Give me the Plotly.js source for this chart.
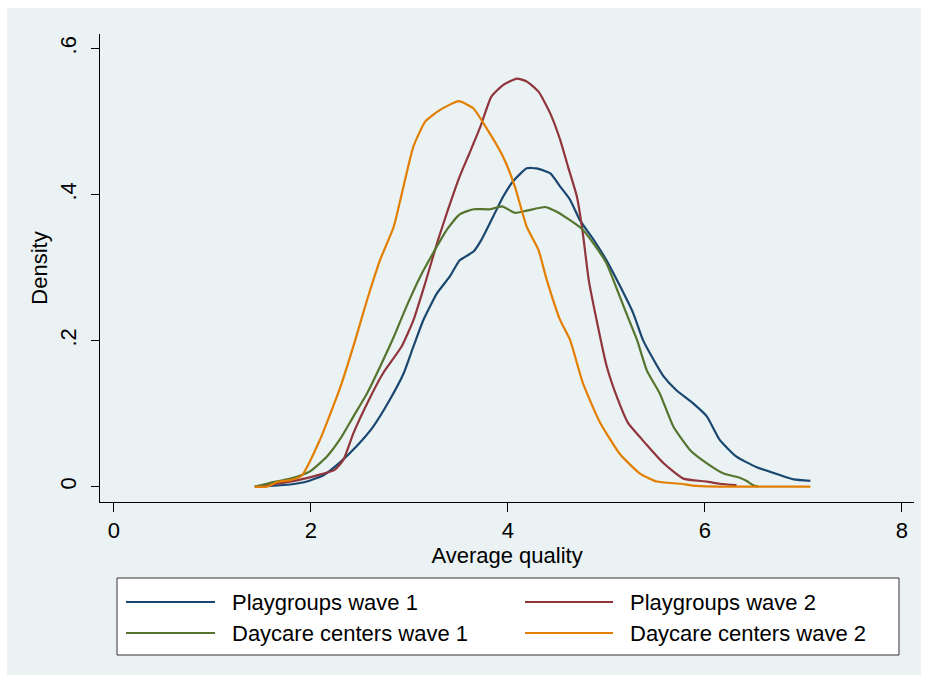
<!DOCTYPE html>
<html>
<head>
<meta charset="utf-8">
<script src="https://cdn.plot.ly/plotly-3.0.1.min.js"></script>
<style>html,body{margin:0;padding:0;background:#fff;}#chart{width:928px;height:682px;}</style>
</head>
<body>
<div id="chart"></div>
<script>
// Series names
const seriesNames = ["Playgroups wave 1", "Playgroups wave 2", "Daycare centers wave 1", "Daycare centers wave 2"];
const seriesColors = ["#1a476f", "#90353b", "#55752f", "#e37e00"];

// Playgroups wave 1
const pg1X = [1.43,1.58,1.79,1.96,2.13,2.30,2.46,2.63,2.80,2.94,3.04,3.14,3.28,3.41,3.51,3.65,3.73,3.85,3.95,4.05,4.19,4.29,4.43,4.53,4.63,4.73,4.87,5.00,5.14,5.27,5.37,5.44,5.58,5.71,5.88,6.02,6.15,6.32,6.52,6.76,6.90,7.07];
const pg1Y = [0.000,0.001,0.003,0.007,0.016,0.034,0.055,0.082,0.119,0.155,0.192,0.228,0.265,0.288,0.310,0.322,0.338,0.370,0.397,0.418,0.436,0.436,0.429,0.411,0.393,0.365,0.338,0.310,0.274,0.238,0.201,0.183,0.151,0.132,0.114,0.096,0.064,0.041,0.027,0.016,0.010,0.008];

// Playgroups wave 2
const pg2X = [1.43,1.60,1.87,2.24,2.33,2.43,2.57,2.73,2.92,3.04,3.16,3.29,3.39,3.51,3.61,3.72,3.83,3.95,4.09,4.19,4.31,4.43,4.53,4.61,4.70,4.76,4.82,4.90,5.00,5.10,5.22,5.34,5.41,5.58,5.78,6.02,6.15,6.32];
const pg2Y = [0.000,0.003,0.009,0.023,0.037,0.073,0.114,0.155,0.192,0.228,0.279,0.338,0.379,0.425,0.457,0.493,0.534,0.550,0.559,0.555,0.541,0.511,0.475,0.438,0.397,0.347,0.283,0.228,0.166,0.125,0.087,0.068,0.057,0.032,0.011,0.007,0.004,0.002];

// Daycare centers wave 1
const dc1X = [1.43,1.58,1.79,1.99,2.16,2.30,2.43,2.57,2.70,2.84,2.97,3.11,3.24,3.38,3.51,3.65,3.82,3.94,4.07,4.19,4.38,4.49,4.63,4.76,4.90,5.00,5.07,5.20,5.31,5.41,5.54,5.68,5.85,6.02,6.19,6.36,6.42,6.49,6.54];
const dc1Y = [0.000,0.005,0.011,0.021,0.041,0.066,0.096,0.128,0.164,0.205,0.247,0.288,0.320,0.352,0.373,0.380,0.380,0.384,0.375,0.378,0.383,0.377,0.365,0.352,0.327,0.306,0.283,0.238,0.201,0.159,0.128,0.082,0.050,0.032,0.018,0.012,0.008,0.002,0.000];

// Daycare centers wave 2
const dc2X = [1.43,1.55,1.67,1.79,1.905,2.09,2.30,2.45,2.57,2.70,2.84,2.92,3.04,3.16,3.31,3.50,3.65,3.75,3.95,4.07,4.19,4.31,4.39,4.53,4.63,4.76,4.93,5.14,5.34,5.51,5.75,5.91,6.20,7.07];
const dc2Y = [0.000,0.000,0.007,0.009,0.015,0.064,0.137,0.201,0.256,0.310,0.356,0.400,0.466,0.500,0.516,0.528,0.518,0.498,0.452,0.411,0.356,0.324,0.285,0.228,0.201,0.142,0.089,0.044,0.018,0.007,0.004,0.001,0.000,0.000];

// Axis ticks
const xTickVals = [0, 2, 4, 6, 8];
const xTickText = ["0", "2", "4", "6", "8"];
const yTickVals = [0, 0.2, 0.4, 0.6];
const yTickText = ["0", ".2", ".4", ".6"];

const xs = [pg1X, pg2X, dc1X, dc2X];
const ys = [pg1Y, pg2Y, dc1Y, dc2Y];

const FONT = "Arial, 'Liberation Sans', Helvetica, sans-serif";
const FS = 22;

const traces = seriesNames.map((n, i) => ({
  type: "scatter", mode: "lines", name: n,
  x: xs[i], y: ys[i],
  line: {color: seriesColors[i], width: 2.2, shape: "spline", smoothing: 0.5}
}));

// Manual legend (Stata style box, 2 columns)
// paper coordinates derived from plot area: x 100..914 px, y 34..502 px
const px = v => (v - 100) / 814;
const py = v => (502 - v) / 468;
const legCols = [[126, 215, 230], [525, 613, 628]];
const legRows = [602, 633];
const shapes = [
  {type: "rect", xref: "paper", yref: "paper", layer: "below",
   x0: px(7), x1: px(921), y0: py(675), y1: py(8),
   fillcolor: "#eaf2f3", line: {width: 0}},
  {type: "rect", xref: "paper", yref: "paper", layer: "above",
   x0: px(117), x1: px(899), y0: py(655), y1: py(578),
   fillcolor: "#ffffff", line: {color: "#333333", width: 1}}
];
const annotations = [];
seriesNames.forEach((n, i) => {
  const c = legCols[i % 2], r = legRows[Math.floor(i / 2)];
  shapes.push({type: "line", xref: "paper", yref: "paper", layer: "above",
    x0: px(c[0]), x1: px(c[1]), y0: py(r), y1: py(r),
    line: {color: seriesColors[i], width: 2.2}});
  annotations.push({xref: "paper", yref: "paper", x: px(c[2]), y: py(r),
    xanchor: "left", yanchor: "middle", showarrow: false, text: n,
    font: {family: FONT, size: FS, color: "#000"}});
});

const layout = {
  width: 928, height: 682,
  paper_bgcolor: "#ffffff",
  plot_bgcolor: "#ffffff",
  margin: {l: 100, r: 14, t: 34, b: 180, pad: 0},
  font: {family: FONT, size: FS, color: "#000"},
  showlegend: false,
  xaxis: {
    range: [-0.142, 8.122], tickvals: xTickVals, ticktext: xTickText,
    showgrid: false, zeroline: false,
    showline: true, linecolor: "#000", linewidth: 1,
    ticks: "outside", ticklen: 9, tickcolor: "#000", tickwidth: 1,
    tickfont: {family: FONT, size: FS, color: "#000"},
    title: {text: "Average quality", font: {family: FONT, size: FS, color: "#000"}, standoff: 2},
    automargin: false
  },
  yaxis: {
    range: [-0.021, 0.620], tickvals: yTickVals, ticktext: yTickText,
    tickangle: -90, ticklabelstandoff: 6,
    showgrid: true, gridcolor: "#eaf2f3", gridwidth: 2, zeroline: false,
    showline: true, linecolor: "#000", linewidth: 1,
    ticks: "outside", ticklen: 8, tickcolor: "#000", tickwidth: 1,
    tickfont: {family: FONT, size: FS, color: "#000"},
    title: {text: "Density", font: {family: FONT, size: FS, color: "#000"}, standoff: 2},
    automargin: false
  },
  shapes: shapes,
  annotations: annotations
};

Plotly.newPlot("chart", traces, layout, {displayModeBar: false, staticPlot: true});
</script>
</body>
</html>
